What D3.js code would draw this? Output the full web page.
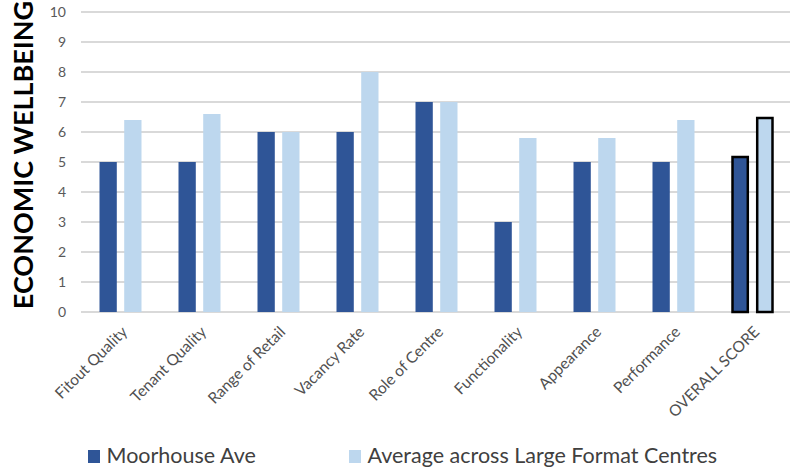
<!DOCTYPE html>
<html>
<head>
<meta charset="utf-8">
<script src="https://cdn.jsdelivr.net/npm/d3@7"></script>
<style>
  html, body { margin: 0; padding: 0; background: #ffffff; }
  svg { display: block; font-family: Lato, "Open Sans", sans-serif; }
</style>
</head>
<body>
<svg id="chart" width="795" height="471"></svg>
<script>
// Scores for each criterion
const categories = ["Fitout Quality", "Tenant Quality", "Range of Retail", "Vacancy Rate",
  "Role of Centre", "Functionality", "Appearance", "Performance", "OVERALL SCORE"];
const moorhouse = [5, 5, 6, 6, 7, 3, 5, 5, 5.2];
const largeFormatAvg = [6.4, 6.6, 6, 8, 7, 5.8, 5.8, 6.4, 6.5];
const yTicks = [0, 1, 2, 3, 4, 5, 6, 7, 8, 9, 10];
const seriesNames = ["Moorhouse Ave", "Average across Large Format Centres"];
const seriesColors = ["#2f5597", "#bdd7ee"];

const FONT = "Lato, 'Open Sans', sans-serif";
const svg = d3.select("#chart");
const plotLeft = 81, plotRight = 792, plotTop = 12, plotBottom = 312;

const x = d3.scaleBand().domain(categories).range([plotLeft, plotRight]);
const y = d3.scaleLinear().domain([0, 10]).range([plotBottom, plotTop]);
const inner = d3.scaleBand().domain([0, 1]).range([-21, 21]).paddingInner(0.3);

// gridlines
svg.append("g").selectAll("line").data(yTicks).join("line")
  .attr("x1", plotLeft).attr("x2", 790)
  .attr("y1", d => y(d)).attr("y2", d => y(d))
  .attr("stroke", "#d9d9d9").attr("stroke-width", 2);

// y axis labels
const yAxis = d3.axisLeft(y).tickValues(yTicks).tickSize(0).tickPadding(0);
const yg = svg.append("g").attr("transform", `translate(66,0)`).call(yAxis);
yg.select(".domain").remove();
yg.attr("font-family", FONT);
yg.selectAll("text").attr("font-size", 14).attr("fill", "#595959");

// bars
const data = categories.map((c, i) => ({ c, vals: [moorhouse[i], largeFormatAvg[i]], overall: i === categories.length - 1 }));
const groups = svg.append("g").selectAll("g").data(data).join("g")
  .attr("transform", d => `translate(${x(d.c) + x.bandwidth() / 2},0)`);
groups.selectAll("rect").data(d => d.vals.map((v, k) => ({ v, k, overall: d.overall }))).join("rect")
  .attr("x", d => inner(d.k) + (d.overall ? 1 : 0))
  .attr("width", d => inner.bandwidth() - (d.overall ? 2 : 0))
  .attr("y", d => y(d.v) + (d.overall ? 1 : 0))
  .attr("height", d => plotBottom - y(d.v) - (d.overall ? 1 : 0))
  .attr("fill", d => seriesColors[d.k])
  .attr("stroke", d => d.overall ? "#000" : "none")
  .attr("stroke-width", 2.5);

// x labels
const xg = svg.append("g").attr("font-family", FONT);
xg.selectAll("text").data(categories).join("text")
  .attr("transform", d => `translate(${x(d) + x.bandwidth() / 2 + 4},${plotBottom + 17}) rotate(-45)`)
  .attr("text-anchor", "end")
  .attr("dy", "0.35em")
  .attr("font-size", 15.5).attr("fill", "#505050")
  .text(d => d);

// y title
svg.append("text")
  .attr("font-family", FONT)
  .attr("transform", `translate(33,155) rotate(-90)`)
  .attr("text-anchor", "middle")
  .attr("font-size", 27).attr("font-weight", "bold").attr("fill", "#000")
  .text("ECONOMIC WELLBEING");

// legend
const legendX = [88, 349];
const lg = svg.append("g").attr("font-family", FONT).selectAll("g").data(seriesNames).join("g")
  .attr("transform", (d, i) => `translate(${legendX[i]},450)`);
lg.append("rect").attr("width", 12).attr("height", 13).attr("fill", (d, i) => seriesColors[i]);
lg.append("text").attr("x", 18.5).attr("y", 13).attr("font-size", 21.5).attr("fill", "#404040").text(d => d);
</script>
</body>
</html>
